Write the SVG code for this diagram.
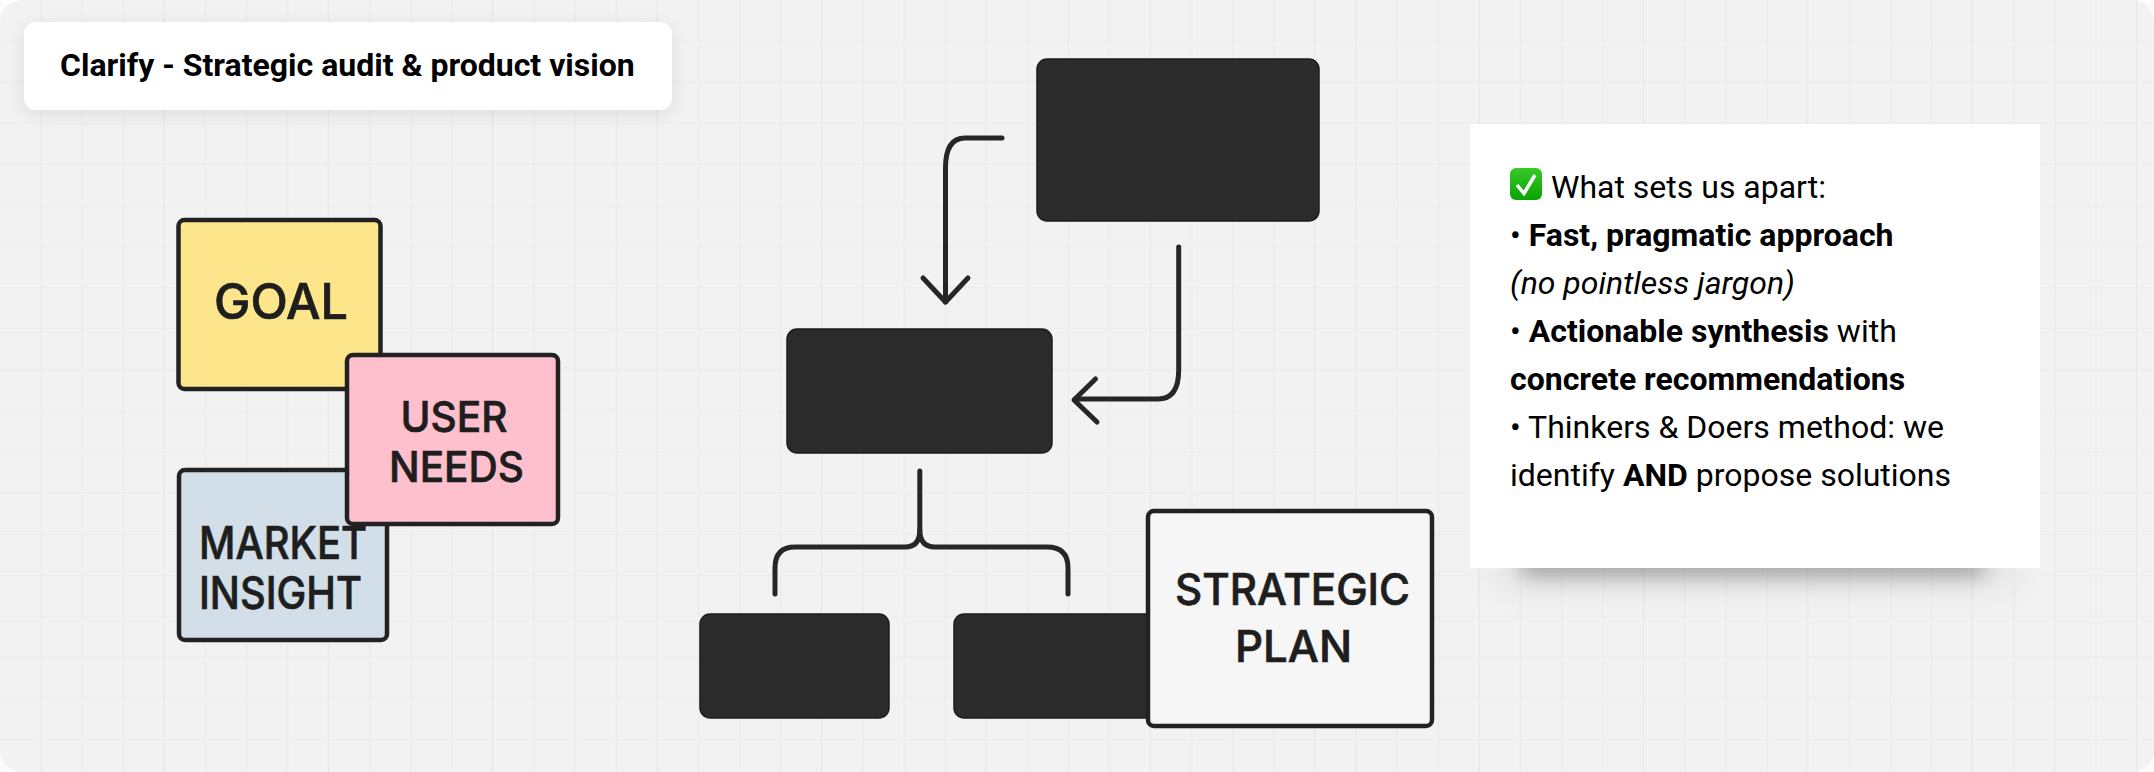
<svg xmlns="http://www.w3.org/2000/svg" width="2154" height="772" viewBox="0 0 2154 772">
<defs>
<style>
.f{font-family:"Roboto","Liberation Sans",sans-serif}
.s{font-family:"Inter","Liberation Sans",sans-serif;fill:#1e1e1e;font-weight:500;stroke:#1e1e1e;stroke-width:.7}
.c{fill:none;stroke:#262626;stroke-width:5;stroke-linecap:round;stroke-linejoin:round}
.b{fill:#2b2b2b;stroke:#1c1c1c;stroke-width:1.5}
.t{fill:#000;font-size:32px}
.n{stroke:#222;stroke-width:4.5}
</style>
<pattern id="g" width="164.4" height="164.4" patternUnits="userSpaceOnUse">
<path d="M41.1 0V164.4M82.2 0V164.4M123.3 0V164.4" stroke="#e9e9e9" stroke-width="1.1" fill="none"/>
<path d="M0 41.100H164.400M0 82.200H164.400M0 123.300H164.400" stroke="#ededed" stroke-width="1.5" fill="none"/>
<path d="M164.4 0V164.4" stroke="#e5e5e5" stroke-width="2" fill="none"/>
<path d="M0 164.400H164.400" stroke="#eaeaea" stroke-width="2" fill="none"/>
</pattern>
<linearGradient id="em" x1="0" y1="0" x2="0" y2="1"><stop offset="0" stop-color="#36c92a"/><stop offset="1" stop-color="#09a402"/></linearGradient>
<filter id="sh1" x="-10%" y="-30%" width="120%" height="170%"><feDropShadow dx="0" dy="4" stdDeviation="8" flood-color="#000" flood-opacity=".09"/></filter>
<filter id="sh2" x="-20%" y="-200%" width="140%" height="500%"><feGaussianBlur stdDeviation="11"/></filter>
<filter id="sh3" x="-20%" y="-200%" width="140%" height="500%"><feGaussianBlur stdDeviation="18"/></filter>
</defs>
<rect width="2154" height="772" fill="#fcfcfc"/>
<rect width="2154" height="772" rx="22" fill="#f2f2f2"/>
<rect width="2154" height="772" rx="22" fill="url(#g)"/>
<g id="title"><rect x="24" y="22" width="648" height="88" rx="12" fill="#fff" filter="url(#sh1)"/><text class="f" x="60" y="76" font-size="32" font-weight="700" fill="#000">Clarify - Strategic audit &amp; product vision</text></g>
<g id="goal"><rect class="n" x="178.500" y="220" width="202" height="169" rx="6" fill="#fde58c"/><text class="s" x="214" y="319" font-size="49" textLength="134" lengthAdjust="spacingAndGlyphs">GOAL</text></g>
<g id="market"><rect class="n" x="179" y="470" width="208" height="170" rx="6" fill="#d3dfe8"/><text class="s" x="199" y="559" font-size="45" textLength="168" lengthAdjust="spacingAndGlyphs">MARKET</text><text class="s" x="199" y="609" font-size="45" textLength="163" lengthAdjust="spacingAndGlyphs">INSIGHT</text></g>
<g id="user"><rect class="n" x="347" y="355" width="211" height="169" rx="6" fill="#fdc0cc"/><text class="s" x="400.500" y="432" font-size="43" textLength="107" lengthAdjust="spacingAndGlyphs">USER</text><text class="s" x="389" y="482" font-size="43" textLength="135" lengthAdjust="spacingAndGlyphs">NEEDS</text></g>
<g id="top-box"><rect class="b" x="1037" y="59" width="282" height="162" rx="10"/></g>
<g id="mid-box"><rect class="b" x="787" y="329" width="265" height="124" rx="10"/></g>
<g id="left-box"><rect class="b" x="700" y="614" width="189" height="104" rx="10"/></g>
<g id="right-box"><rect class="b" x="954" y="614" width="210" height="104" rx="10"/></g>
<g id="plan"><rect x="1148" y="511" width="284" height="215" rx="6" fill="#f6f6f6" stroke="#222" stroke-width="4.500"/><text class="s" x="1175" y="605" font-size="44" textLength="235" lengthAdjust="spacingAndGlyphs">STRATEGIC</text><text class="s" x="1235" y="662" font-size="44" textLength="117" lengthAdjust="spacingAndGlyphs">PLAN</text></g>
<g id="connectors">
<path class="c" d="M1002 138H965Q945.500 138 945.500 168V302"/><path class="c" d="M923 278L945.500 302L968 278"/>
<path class="c" d="M1178.700 247V370Q1178.700 399 1158 399H1075"/><path class="c" d="M1095.500 379L1074 400L1097 422"/>
<path class="c" d="M919.800 471V530Q919.800 547 905 547H795Q775 547 775 568V594"/><path class="c" d="M919.800 530Q919.800 547 935 547H1047Q1068 547 1068 568V594"/>
</g>
<g id="card">
<rect x="1490" y="550" width="530" height="40" fill="#000" opacity=".05" filter="url(#sh3)"/>
<rect x="1522" y="540" width="462" height="36" fill="#000" opacity=".3" filter="url(#sh2)"/>
<rect x="1470" y="124" width="570" height="444" fill="#fff"/>
<g id="check"><rect x="1510" y="168" width="32" height="32" rx="6" fill="url(#em)"/><path d="M1517 185L1524 193.500L1535 175" fill="none" stroke="#fff" stroke-width="3.500"/></g>
<text class="f t" x="1551" y="198">What sets us apart:</text>
<text class="f t" x="1510" y="246">• <tspan font-weight="700">Fast, pragmatic approach</tspan></text>
<text class="f t" x="1510" y="294" font-style="italic">(no pointless jargon)</text>
<text class="f t" x="1510" y="342">• <tspan font-weight="700">Actionable synthesis</tspan> with</text>
<text class="f t" x="1510" y="390" font-weight="700">concrete recommendations</text>
<text class="f t" x="1510" y="438">• Thinkers &amp; Doers method: we</text>
<text class="f t" x="1510" y="486">identify <tspan font-weight="700">AND</tspan> propose solutions</text>
</g>
</svg>
